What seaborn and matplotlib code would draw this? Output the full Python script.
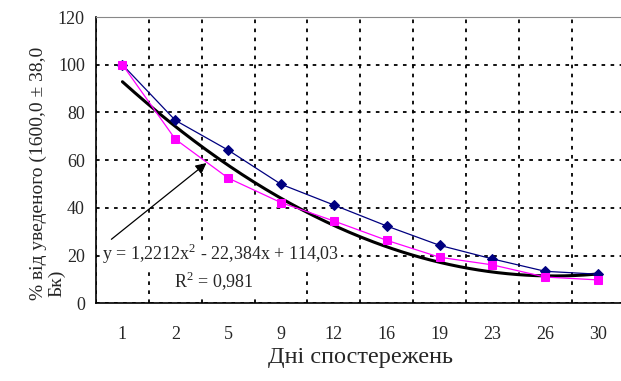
import numpy as np
import pandas as pd
import matplotlib
matplotlib.use("Agg")
import matplotlib.pyplot as plt
import seaborn as sns

days = ["1", "2", "5", "9", "12", "16", "19", "23", "26", "30"]
series_blue = [100, 76.7, 64.2, 49.9, 41.2, 32.4, 24.3, 18.6, 13.4, 12.2]
series_pink = [100, 68.8, 52.5, 42.2, 34.5, 26.4, 19.3, 16.1, 11.0, 9.8]
trend_coefs = [1.2212, -22.384, 114.03]
y_ticks = [0, 20, 40, 60, 80, 100, 120]

sns.set_style("white")
plt.rcParams["font.family"] = ["Liberation Serif", "DejaVu Serif"]
plt.rcParams["mathtext.fontset"] = "custom"
plt.rcParams["mathtext.rm"] = "Liberation Serif"

fig = plt.figure(figsize=(6.21, 3.81), dpi=100)
W, H = 621, 381
left, right, top, bottom = 96, 624.6, 17, 303.3
ax = fig.add_axes([left / W, 1 - bottom / H, (right - left) / W, (bottom - top) / H])

pos = np.arange(len(days))
df = pd.DataFrame({"pos": np.concatenate([pos, pos]),
                   "val": series_blue + series_pink,
                   "s": ["b"] * len(days) + ["p"] * len(days)})

# trend line
xs = np.linspace(1, len(days), 200)
ys = np.polyval(trend_coefs, xs)
sns.lineplot(x=xs - 1, y=ys, ax=ax, color="black", lw=2.2, zorder=3)

sns.lineplot(data=df[df.s == "b"], x="pos", y="val", ax=ax, color="#000080",
             lw=0.9, marker="D", markersize=5, markeredgecolor="#000080", zorder=4)
sns.lineplot(data=df[df.s == "p"], x="pos", y="val", ax=ax, color="#FF00FF",
             lw=0.9, marker="s", markersize=6, markeredgecolor="#FF00FF", zorder=4)

ax.set_xlim(-0.5, len(days) - 0.5)
ax.set_ylim(0, 120)
ax.set_yticks(y_ticks)
ax.set_yticklabels([str(v) for v in y_ticks], fontsize=13)
ax.set_xticks(np.arange(-0.5, len(days) - 0.5, 1.0))
ax.set_xticklabels([])
ax.set_xticks(pos, minor=True)
ax.set_xticklabels(days, minor=True, fontsize=13)
ax.tick_params(axis="x", which="major", length=6, width=1, direction="out", color="#333333")
ax.tick_params(axis="x", which="minor", length=0, pad=16)
ax.tick_params(axis="y", length=6, width=1, direction="out", pad=2)
ax.grid(True, which="major", color="black", linestyle=(0, (2, 3)), linewidth=1.3)
ax.set_axisbelow(True)

for s in ["left", "bottom"]:
    ax.spines[s].set_color("black")
    ax.spines[s].set_linewidth(1.2)
ax.spines["top"].set_color("#888888")
ax.spines["top"].set_linewidth(0.8)
ax.spines["right"].set_visible(False)

ax.set_xlabel("Дні спостережень", fontsize=17.5, labelpad=3)
ax.set_ylabel("% від уведеного (1600,0 ± 38,0", fontsize=14)
ax.yaxis.set_label_coords(-0.093, 0.455)
ax.text(-0.0745, 0.022, "Бк)", transform=ax.transAxes, rotation=90,
        fontsize=14, ha="center", va="bottom")

# equation label with white box
ax.text(-0.39, 20.7, "y = 1,2212x$^{2}$ - 22,384x + 114,03", fontsize=13, va="center",
        ha="left", zorder=5,
        bbox=dict(facecolor="white", edgecolor="none", pad=1.5))
ax.text(1.72, 9.5, "R$^{2}$ = 0,981", fontsize=13, va="center", ha="center", zorder=5,
        bbox=dict(facecolor="white", edgecolor="none", pad=3))
ax.annotate("", xy=(1.63, 59.5), xytext=(-0.25, 26.1),
            arrowprops=dict(arrowstyle="-|>", color="black", lw=0.9,
                            mutation_scale=16), zorder=6)

fig.savefig("out.png", dpi=100)
